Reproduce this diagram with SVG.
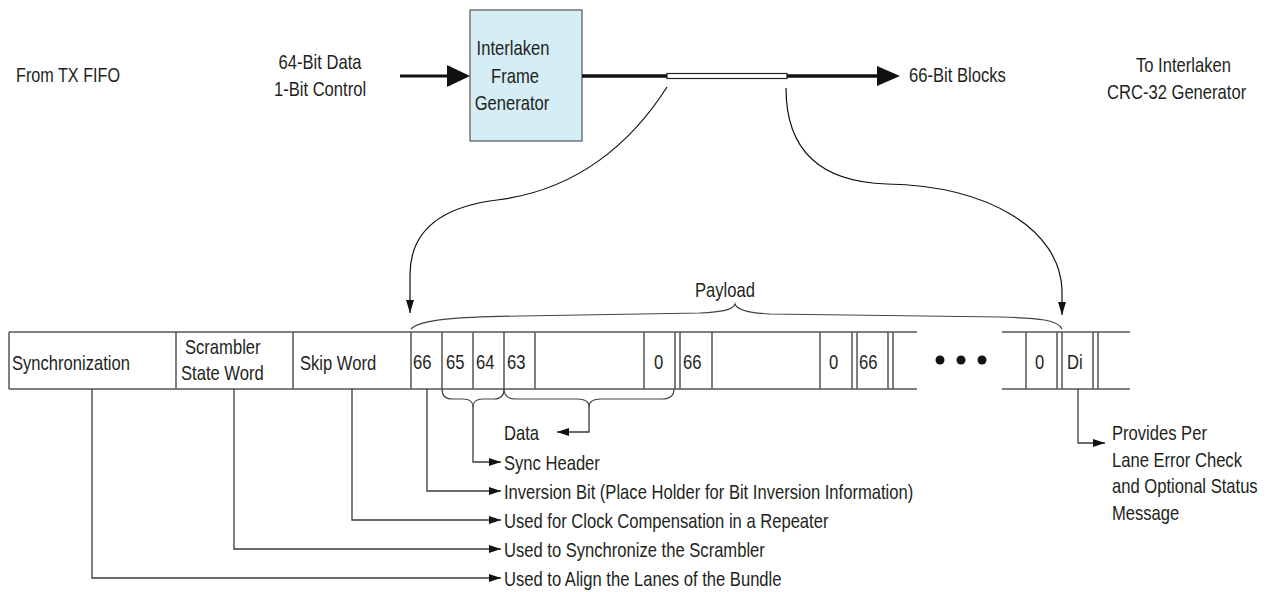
<svg xmlns="http://www.w3.org/2000/svg" width="1270" height="592" viewBox="0 0 1270 592">
<style>
text{font-family:"Liberation Sans",Arial,sans-serif;font-size:20px;fill:#231f20}
.mid{text-anchor:middle}
.cell{fill:none;stroke:#555;stroke-width:1.5}
.lead{fill:none;stroke:#3a3a3a;stroke-width:1.3}
.curve{fill:none;stroke:#111;stroke-width:1.2}
.brace{fill:none;stroke:#444;stroke-width:1.2}
.ah{fill:#111}
</style>
<defs>
<marker id="sm" viewBox="0 0 12 8" refX="12" refY="4" markerWidth="12" markerHeight="8" markerUnits="userSpaceOnUse" orient="auto"><path d="M0,0 L12,4 L0,8 Z" class="ah"/></marker>
<marker id="cv" viewBox="0 0 13 8" refX="13" refY="4" markerWidth="13" markerHeight="8" markerUnits="userSpaceOnUse" orient="auto"><path d="M0,0 L13,4 L0,8 Z" class="ah"/></marker>
</defs>
<rect width="1270" height="592" fill="#fff"/>

<g id="from-tx-fifo"><text transform="translate(16 82) scale(.81 1)">From TX FIFO</text></g>
<g id="input-label"><text class="mid" transform="translate(320 69) scale(.83 1)">64-Bit Data</text><text class="mid" transform="translate(320 96) scale(.83 1)">1-Bit Control</text></g>
<g id="frame-generator">
<rect x="470" y="10" width="112" height="131" fill="#d5edf5" stroke="#555" stroke-width="1.2"/>
<text class="mid" transform="translate(513 55) scale(.83 1)">Interlaken</text><text class="mid" transform="translate(515 83) scale(.83 1)">Frame</text><text class="mid" transform="translate(512 110) scale(.83 1)">Generator</text>
</g>
<g id="output-label"><text transform="translate(909 82) scale(.83 1)">66-Bit Blocks</text></g>
<g id="crc-label"><text transform="translate(1136 72) scale(.83 1)">To Interlaken</text><text transform="translate(1107 99) scale(.83 1)">CRC-32 Generator</text></g>

<g id="frame">
<path class="cell" d="M9,332 H917 M9,389 H917 M1002,332 H1130 M1002,389 H1130"/>
<path class="cell" d="M9,332 V389 M176,332 V389 M293,332 V389 M411,332 V389 M442,332 V389 M473,332 V389 M504,332 V389 M535,332 V389 M644,332 V389 M675,332 V389 M680,332 V389 M712,332 V389 M820,332 V389 M852,332 V389 M857,332 V389 M888,332 V389 M893,332 V389 M1026,332 V389 M1057,332 V389 M1062,332 V389 M1093,332 V389 M1098,332 V389"/>
<text transform="translate(12 370) scale(.83 1)">Synchronization</text>
<text transform="translate(185 354) scale(.83 1)">Scrambler</text><text transform="translate(181 380) scale(.83 1)">State Word</text>
<text transform="translate(300 370) scale(.83 1)">Skip Word</text>
<text transform="translate(413 369) scale(.83 1)">66</text><text transform="translate(446 369) scale(.83 1)">65</text><text transform="translate(476 369) scale(.83 1)">64</text><text transform="translate(507 369) scale(.83 1)">63</text>
<text transform="translate(654 369) scale(.83 1)">0</text><text transform="translate(683 369) scale(.83 1)">66</text>
<text transform="translate(829 369) scale(.83 1)">0</text><text transform="translate(859 369) scale(.83 1)">66</text>
<circle cx="940" cy="360" r="4.5" fill="#111"/><circle cx="961" cy="360" r="4.5" fill="#111"/><circle cx="982" cy="360" r="4.5" fill="#111"/>
<text transform="translate(1035 369) scale(.83 1)">0</text><text transform="translate(1067 369) scale(.83 1)">Di</text>
</g>

<g id="payload"><text class="mid" transform="translate(725 297) scale(.83 1)">Payload</text>
<path class="brace" d="M411,329 C420,319 460,317 520,316 L700,313 C722,312 733,310 735,304 C737,310 748,313 770,314 L1000,317 C1040,318 1058,320 1062,329"/></g>

<g id="labels">
<text transform="translate(504 440) scale(.83 1)">Data</text>
<text transform="translate(504 470) scale(.83 1)">Sync Header</text>
<text transform="translate(504 499) scale(.83 1)">Inversion Bit (Place Holder for Bit Inversion Information)</text>
<text transform="translate(504 528) scale(.83 1)">Used for Clock Compensation in a Repeater</text>
<text transform="translate(504 557) scale(.83 1)">Used to Synchronize the Scrambler</text>
<text transform="translate(504 586) scale(.83 1)">Used to Align the Lanes of the Bundle</text>
<text transform="translate(1112 440) scale(.83 1)">Provides Per</text>
<text transform="translate(1112 467) scale(.83 1)">Lane Error Check</text>
<text transform="translate(1112 493) scale(.83 1)">and Optional Status</text>
<text transform="translate(1112 520) scale(.83 1)">Message</text>
</g>

<g id="connectors">
<line x1="400" y1="76" x2="448" y2="76" stroke="#111" stroke-width="2.8"/>
<path d="M447,65 L470,76 L447,87 Z" class="ah"/>
<line x1="582" y1="76" x2="667" y2="76" stroke="#111" stroke-width="3.5"/>
<rect x="667" y="73.5" width="120" height="5" fill="#fff" stroke="#222" stroke-width="1.2"/>
<line x1="787" y1="76" x2="878" y2="76" stroke="#111" stroke-width="3.5"/>
<path d="M877,66 L900,76 L877,86 Z" class="ah"/>
<path class="curve" d="M667,87 C632,142 578,190 497,200 C440,207 410,232 410,275 L410,313" marker-end="url(#cv)"/>
<path class="curve" d="M786,88 C786,150 820,182 887,184 C990,186 1060,230 1062,290 L1062,315" marker-end="url(#cv)"/>
<path class="brace" d="M442,389 Q442,399 452,399 L463,399 Q473,399 473,407 Q473,399 483,399 L494,399 Q504,399 504,389"/>
<path class="brace" d="M504,389 Q504,399 516,399 L577,399 Q589,399 589,407 Q589,399 601,399 L662,399 Q674,399 674,389"/>
<path class="lead" d="M589,406 V432 H557" marker-end="url(#sm)"/>
<path class="lead" d="M473,406 V462 H501" marker-end="url(#sm)"/>
<path class="lead" d="M427,389 V491 H501" marker-end="url(#sm)"/>
<path class="lead" d="M352,389 V520 H501" marker-end="url(#sm)"/>
<path class="lead" d="M234,389 V549 H501" marker-end="url(#sm)"/>
<path class="lead" d="M92,389 V578 H501" marker-end="url(#sm)"/>
<path class="lead" d="M1078,389 V443 H1105" marker-end="url(#sm)"/>
</g>
</svg>
